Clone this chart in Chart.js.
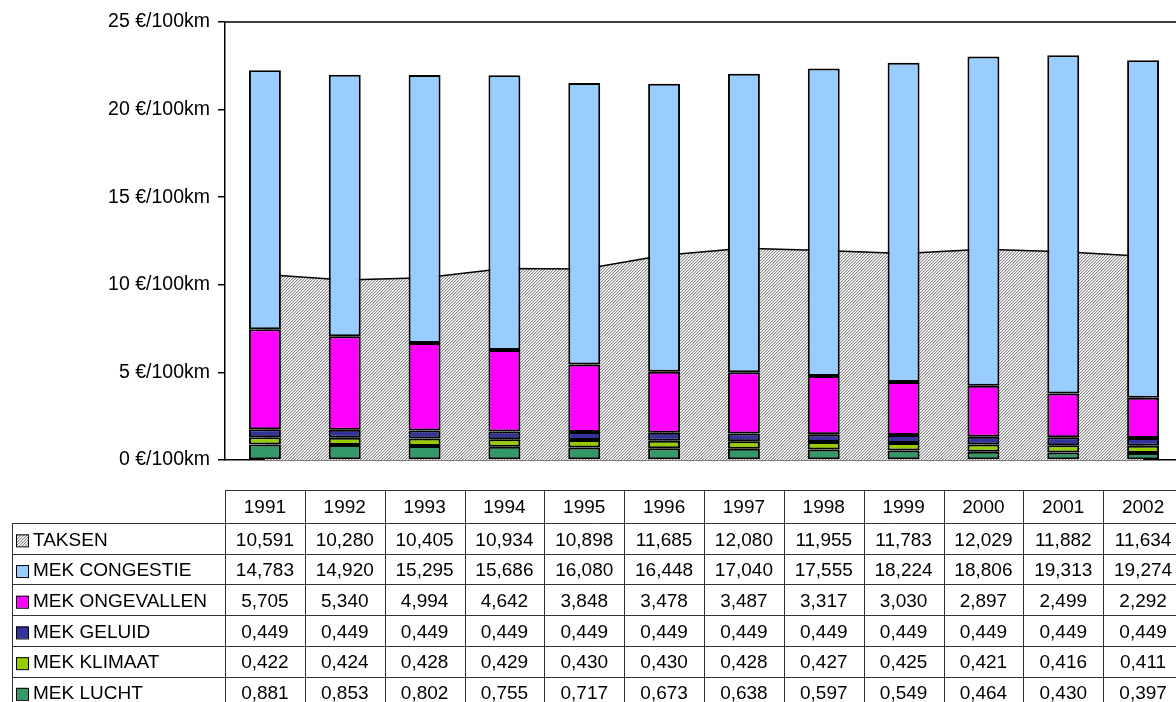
<!DOCTYPE html>
<html>
<head>
<meta charset="utf-8">
<script src="https://cdn.jsdelivr.net/npm/chart.js@4.4.1/dist/chart.umd.min.js"></script>
<style>
  html, body { margin: 0; padding: 0; background: #fff; overflow: hidden; }
  #wrap { width: 1184px; height: 702px; position: relative; }
  #c { display: block; }
</style>
</head>
<body>
<div id="wrap"><canvas id="c" width="1184" height="702"></canvas></div>
<script>
// Categories
const years = ['1991','1992','1993','1994','1995','1996','1997','1998','1999','2000','2001','2002'];

// Series (€/100km)
const taksen     = [10.591,10.280,10.405,10.934,10.898,11.685,12.080,11.955,11.783,12.029,11.882,11.634];
const congestie  = [14.783,14.920,15.295,15.686,16.080,16.448,17.040,17.555,18.224,18.806,19.313,19.274];
const ongevallen = [5.705,5.340,4.994,4.642,3.848,3.478,3.487,3.317,3.030,2.897,2.499,2.292];
const geluid     = [0.449,0.449,0.449,0.449,0.449,0.449,0.449,0.449,0.449,0.449,0.449,0.449];
const klimaat    = [0.422,0.424,0.428,0.429,0.430,0.430,0.428,0.427,0.425,0.421,0.416,0.411];
const lucht      = [0.881,0.853,0.802,0.755,0.717,0.673,0.638,0.597,0.549,0.464,0.430,0.397];

// Axis ticks
const yTicks = [0, 5, 10, 15, 20, 25];
const unit = ' €/100km';

const FONT = '"Liberation Sans", Arial, sans-serif';

// Fine diagonal hatch used for the TAKSEN area
function makeHatch() {
  const t = document.createElement('canvas');
  t.width = 3; t.height = 3;
  const g = t.getContext('2d');
  g.fillStyle = '#ffffff';
  g.fillRect(0, 0, 3, 3);
  for (let x = 0; x < 3; x++) {
    for (let y = 0; y < 3; y++) {
      const k = (x + y) % 3;
      if (k === 0) { g.fillStyle = '#8c8c8c'; g.fillRect(x, y, 1, 1); }
      else if (k === 1) { g.fillStyle = '#d6d6d6'; g.fillRect(x, y, 1, 1); }
    }
  }
  return document.getElementById('c').getContext('2d').createPattern(t, 'repeat');
}
const hatch = makeHatch();

const barStyle = (label, data, color) => ({
  type: 'bar', label, data,
  backgroundColor: color,
  borderColor: '#000',
  borderWidth: 2,
  borderSkipped: false,
  barPercentage: 0.4,
  categoryPercentage: 1.0,
  stack: 'mek',
  order: 1
});

// Rows of the data table below the plot
const tableRows = [
  { label: 'TAKSEN',          values: taksen,     swatch: 'hatch' },
  { label: 'MEK CONGESTIE',   values: congestie,  swatch: '#99CCFF' },
  { label: 'MEK ONGEVALLEN',  values: ongevallen, swatch: '#FF00FF' },
  { label: 'MEK GELUID',      values: geluid,     swatch: '#333399' },
  { label: 'MEK KLIMAAT',     values: klimaat,    swatch: '#99CC00' },
  { label: 'MEK LUCHT',       values: lucht,      swatch: '#339966' }
];

const fmt = v => v.toFixed(3).replace('.', ',');

const frameAndTable = {
  id: 'frameAndTable',
  afterDraw(chart) {
    const ctx = chart.ctx;
    const area = chart.chartArea;
    const x = chart.scales.x;
    const cw = x.width / years.length;

    ctx.save();
    // top edge of the plot frame
    ctx.strokeStyle = '#000';
    ctx.lineWidth = 1.5;
    ctx.beginPath();
    ctx.moveTo(area.left, area.top);
    ctx.lineTo(area.right, area.top);
    ctx.stroke();

    // table grid
    const headTop = 490, headBottom = 523, rowH = 30.7;
    const labelLeft = 12;
    const tableBottom = headBottom + rowH * tableRows.length;
    ctx.strokeStyle = '#333';
    ctx.lineWidth = 1;
    ctx.beginPath();
    ctx.moveTo(area.left, headTop + 0.5); ctx.lineTo(area.right, headTop + 0.5);
    for (let r = 0; r <= tableRows.length; r++) {
      const yy = Math.round(headBottom + rowH * r) + 0.5;
      ctx.moveTo(labelLeft, yy); ctx.lineTo(area.right, yy);
    }
    for (let i = 0; i <= years.length; i++) {
      const xx = Math.round(area.left + cw * i) + 0.5;
      ctx.moveTo(xx, headTop); ctx.lineTo(xx, tableBottom);
    }
    ctx.moveTo(labelLeft + 0.5, headBottom); ctx.lineTo(labelLeft + 0.5, tableBottom);
    ctx.stroke();

    // header
    ctx.fillStyle = '#000';
    ctx.font = '19px ' + FONT;
    ctx.textAlign = 'center';
    ctx.textBaseline = 'middle';
    years.forEach((yr, i) => {
      ctx.fillText(yr, x.getPixelForValue(i), (headTop + headBottom) / 2 + 1);
    });

    // rows
    tableRows.forEach((row, r) => {
      const cy = headBottom + rowH * r + rowH / 2 + 2;
      // legend swatch
      ctx.fillStyle = row.swatch === 'hatch' ? hatch : row.swatch;
      ctx.fillRect(16, cy - 6, 12, 12);
      ctx.strokeStyle = '#000';
      ctx.lineWidth = 1;
      ctx.strokeRect(16.5, cy - 5.5, 12, 12);
      ctx.fillStyle = '#000';
      ctx.textAlign = 'left';
      ctx.fillText(row.label, 33, cy);
      ctx.textAlign = 'center';
      row.values.forEach((v, i) => {
        ctx.fillText(fmt(v), x.getPixelForValue(i), cy);
      });
    });
    ctx.restore();
  }
};

new Chart(document.getElementById('c'), {
  data: {
    labels: years,
    datasets: [
      barStyle('MEK LUCHT', lucht, '#339966'),
      barStyle('MEK KLIMAAT', klimaat, '#99CC00'),
      barStyle('MEK GELUID', geluid, '#333399'),
      barStyle('MEK ONGEVALLEN', ongevallen, '#FF00FF'),
      barStyle('MEK CONGESTIE', congestie, '#99CCFF'),
      {
        type: 'line',
        label: 'TAKSEN',
        data: taksen,
        stack: 'taksen',
        fill: 'origin',
        backgroundColor: hatch,
        borderColor: '#000',
        borderWidth: 1.5,
        pointRadius: 0,
        tension: 0,
        order: 10
      }
    ]
  },
  options: {
    responsive: false,
    animation: false,
    devicePixelRatio: 1,
    layout: { padding: { top: 22, right: 1, bottom: 242, left: 0 } },
    plugins: { legend: { display: false }, tooltip: { enabled: false } },
    scales: {
      x: {
        type: 'category',
        offset: true,
        grid: { display: false },
        border: { display: true, color: '#000', width: 1.5 },
        ticks: { display: false },
        afterFit: s => { s.height = 0; }
      },
      y: {
        stacked: true,
        min: 0, max: 25,
        afterBuildTicks: s => { s.ticks = yTicks.map(v => ({ value: v })); },
        grid: { drawOnChartArea: false, drawTicks: true, tickLength: 7, color: '#000', lineWidth: 1.5 },
        border: { display: true, color: '#000', width: 1.5 },
        ticks: {
          color: '#000',
          padding: 8,
          font: { family: FONT, size: 19.5 },
          callback: v => v + unit
        },
        afterFit: s => { s.width = 225; }
      }
    }
  },
  plugins: [frameAndTable]
});
</script>
</body>
</html>
